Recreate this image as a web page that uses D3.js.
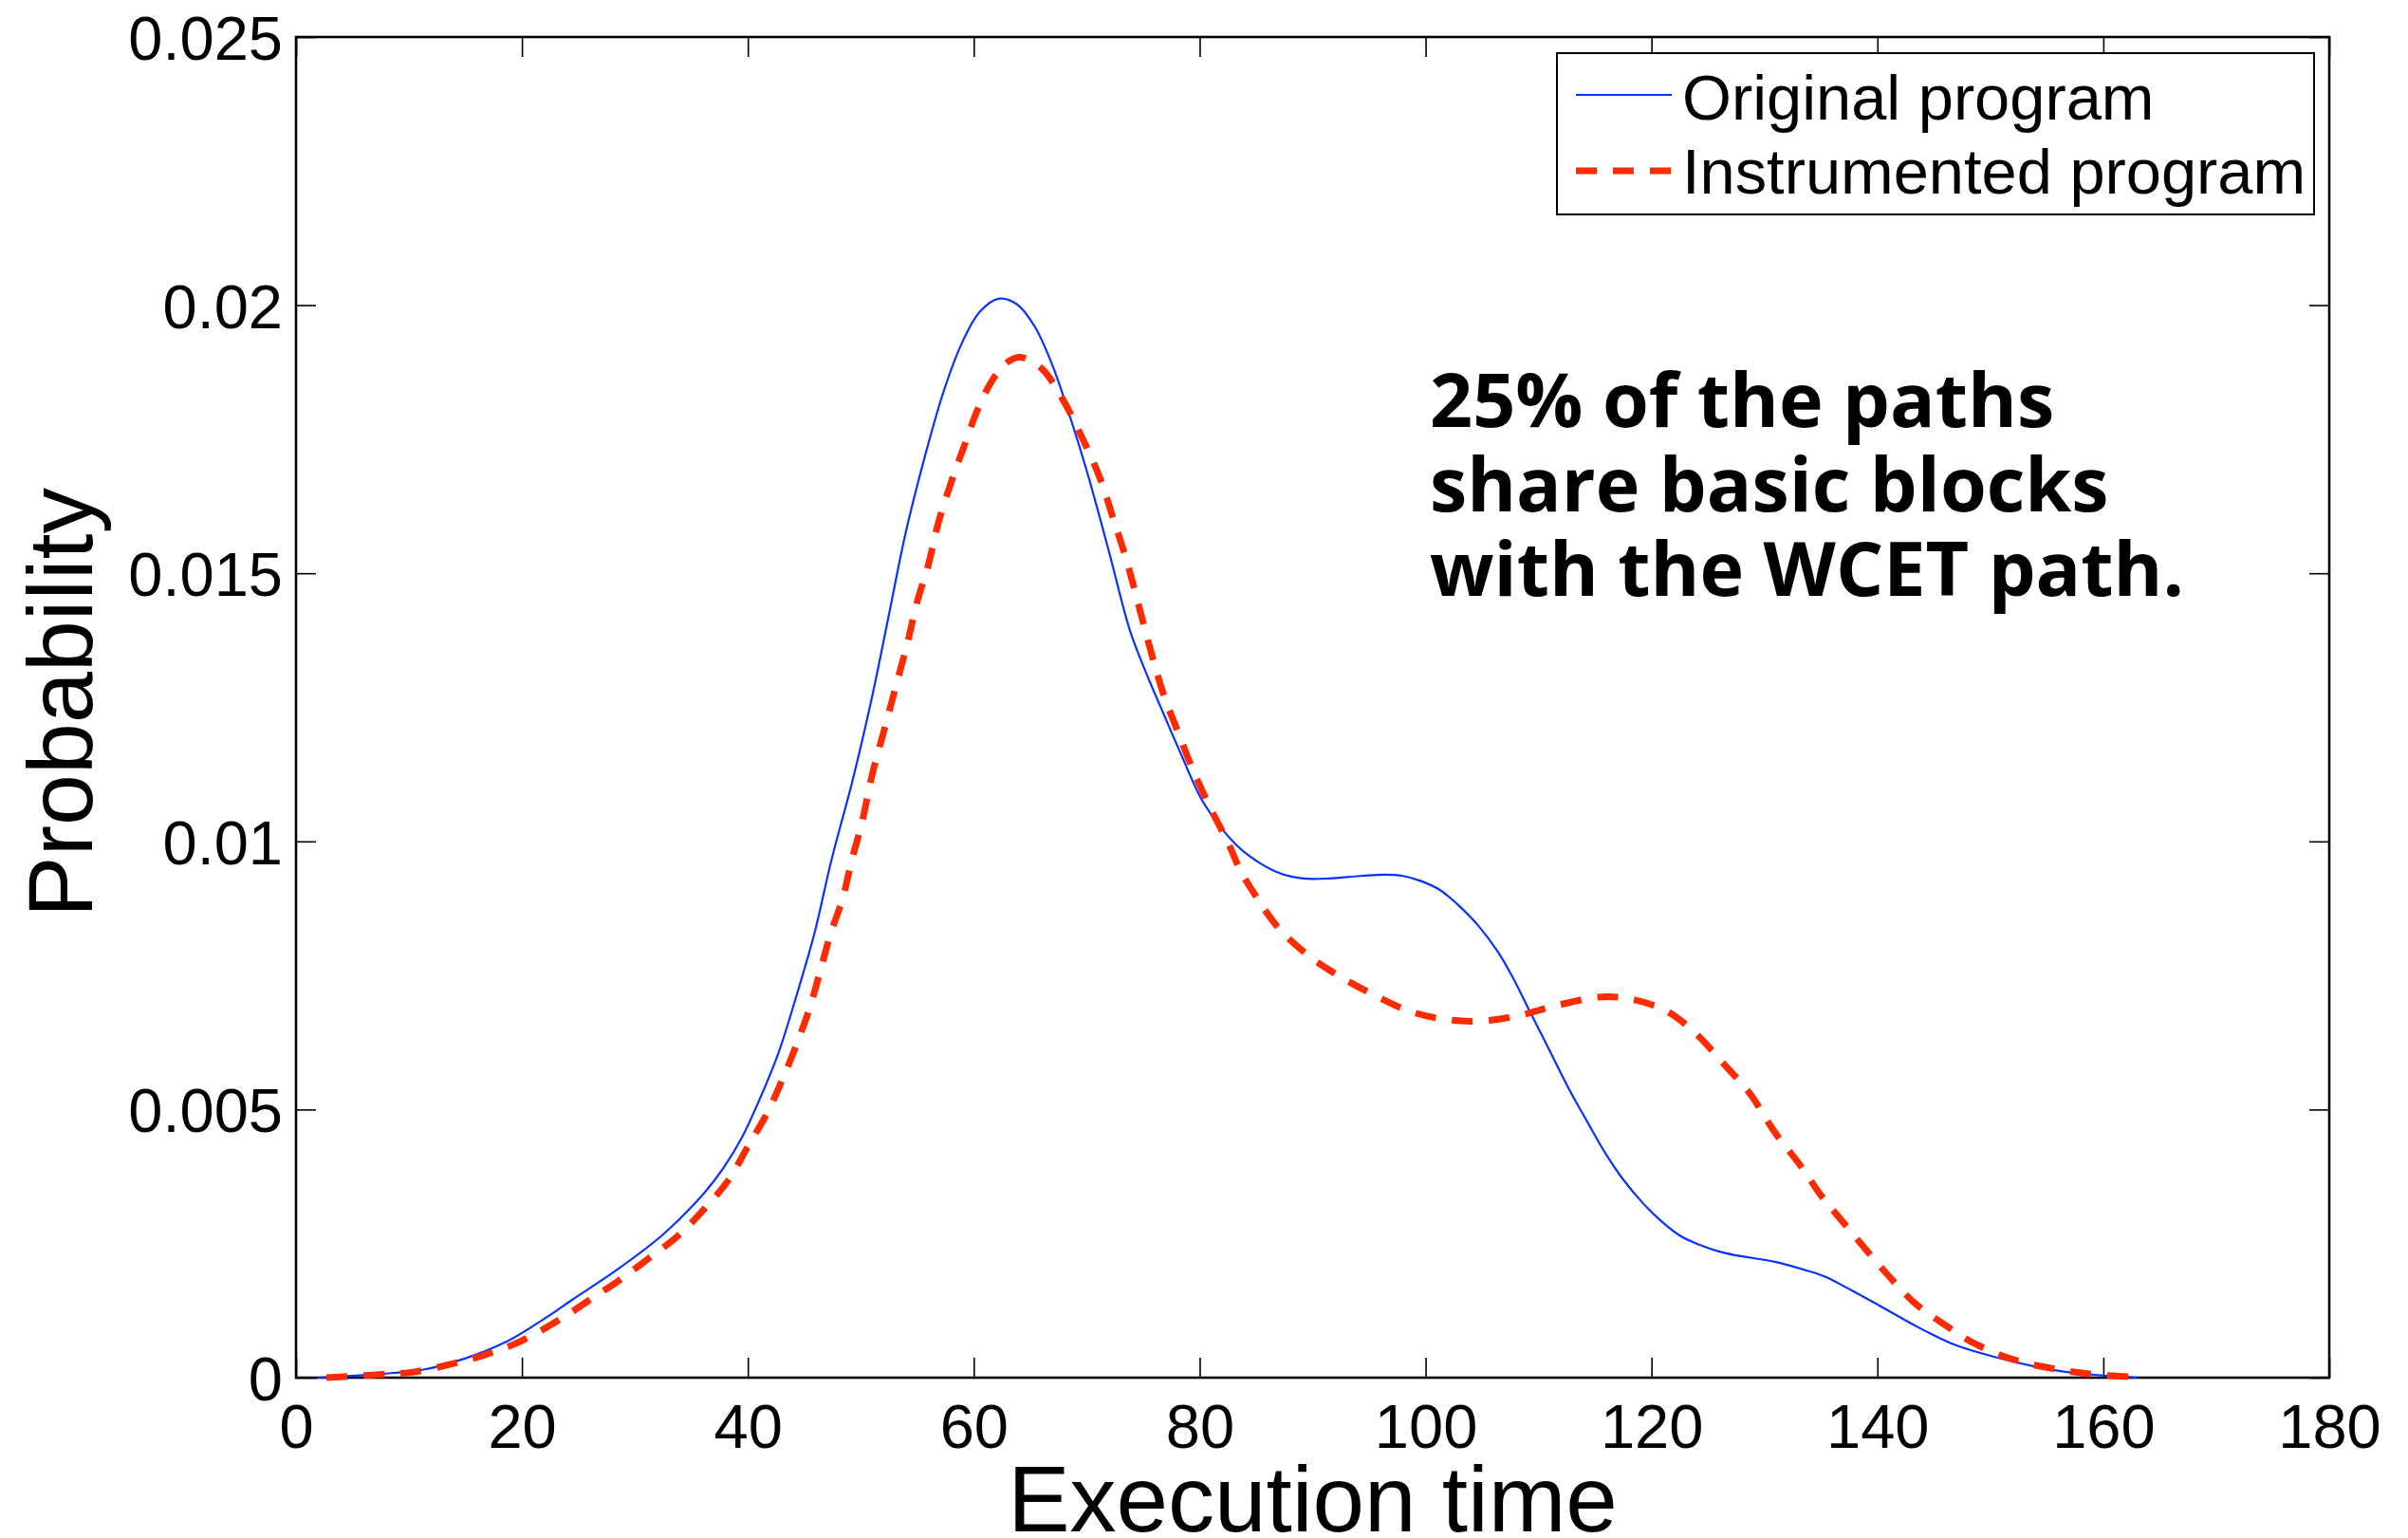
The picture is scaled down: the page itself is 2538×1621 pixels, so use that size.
<!DOCTYPE html>
<html>
<head>
<meta charset="utf-8">
<script src="https://cdn.jsdelivr.net/npm/d3@7"></script>
<style>
  html, body { margin: 0; padding: 0; background: #fff; }
  svg { display: block; }
</style>
</head>
<body>
<div id="chart"></div>
<script>
// ---- data ----
const xTicks = [0, 20, 40, 60, 80, 100, 120, 140, 160, 180];
const yTicks = [0, 0.005, 0.01, 0.015, 0.02, 0.025];
const yTickLabels = ["0", "0.005", "0.01", "0.015", "0.02", "0.025"];

const seriesNames = ["Original program", "Instrumented program"];

const originalX = [1.9, 7.5, 11.3, 15.0, 18.8, 22.5, 24.5, 28.4, 32.6, 36.2, 37.9, 39.5, 41.0, 42.7, 44.2,
  45.9, 47.4, 49.3, 51.0, 52.5, 54.0, 55.7, 57.3, 58.9, 60.5, 62.2, 63.8, 65.4, 67.0, 68.6, 70.1, 72.0,
  73.8, 75.3, 76.8, 78.3, 80.4, 83.3, 85.0, 86.7, 88.2, 90.0, 91.5, 94.5, 96.4, 97.9, 99.6, 101.3, 102.8,
  104.7, 106.4, 107.7, 109.3, 111.0, 112.7, 114.4, 115.9, 117.4, 119.3, 120.8, 122.5, 124.2, 126.0, 127.5,
  130.9, 133.7, 135.4, 137.6, 140.2, 143.6, 147.0, 150.5, 153.9, 157.3, 160.0, 163.0];
const originalY = [0, 0.00007, 0.00015, 0.00036, 0.00069, 0.00117, 0.00146, 0.00201, 0.00269, 0.00346, 0.00393,
  0.00449, 0.00517, 0.00605, 0.00705, 0.00829, 0.00965, 0.01116, 0.0127, 0.01424, 0.01578, 0.0172, 0.01837,
  0.01927, 0.01987, 0.02012, 0.02002, 0.0196, 0.01886, 0.01787, 0.01684, 0.01538, 0.01395, 0.01312, 0.01238,
  0.01165, 0.0107, 0.00992, 0.00964, 0.00944, 0.00934, 0.0093, 0.00931, 0.00936, 0.00938, 0.00936, 0.00926,
  0.00909, 0.00883, 0.00842, 0.00794, 0.00747, 0.0068, 0.00609, 0.00538, 0.00474, 0.00419, 0.00372, 0.00324,
  0.00293, 0.00265, 0.00248, 0.00235, 0.00228, 0.00216, 0.002, 0.00188, 0.00164, 0.00134, 0.00094, 0.0006,
  0.00038, 0.00021, 0.00009, 0.00004, 0.0];

const instrumentedX = [2.7, 6.8, 10.2, 13.5, 16.5, 19.9, 23.7, 26.2, 28.5, 31.2, 33.9, 36.2, 38.3, 40.0, 41.7,
  43.1, 44.4, 45.5, 46.4, 47.3, 48.4, 49.2, 50.1, 51.0, 52.1, 53.2, 54.2, 54.9, 56.0, 56.9, 58.1, 59.2, 60.3,
  61.7, 63.0, 64.1, 66.0, 67.8, 69.7, 71.2, 72.3, 73.5, 74.6, 75.7, 76.8, 78.1, 79.45, 81.0, 82.5, 83.65,
  85.0, 87.0, 89.7, 92.5, 95.3, 98.5, 101.7, 105.0, 108.4, 111.6, 115.5, 118.2, 121.3, 123.8, 126.4, 128.7,
  130.9, 133.2, 135.0, 136.4, 138.5, 140.9, 143.3, 146.0, 148.75, 152.0, 155.25, 158.7, 162.8];
const instrumentedY = [0, 0.00005, 0.0001, 0.00024, 0.00041, 0.00068, 0.00113, 0.00148, 0.0018, 0.00222,
  0.00266, 0.00316, 0.00369, 0.00431, 0.00493, 0.00558, 0.00626, 0.00691, 0.00758, 0.00826, 0.00894,
  0.00965, 0.01035, 0.01124, 0.0121, 0.01297, 0.01376, 0.0144, 0.01518, 0.01597, 0.01676, 0.0174, 0.01803,
  0.01862, 0.01894, 0.01903, 0.01882, 0.01827, 0.01748, 0.01676, 0.01605, 0.01526, 0.0144, 0.01353, 0.01274,
  0.01203, 0.01131, 0.0106, 0.00998, 0.00944, 0.00897, 0.00838, 0.00786, 0.00747, 0.00715, 0.00684, 0.00668,
  0.00665, 0.00676, 0.00694, 0.0071, 0.00706, 0.00684, 0.00644, 0.00585, 0.0053, 0.00458, 0.00395, 0.0034,
  0.00304, 0.00251, 0.00192, 0.00139, 0.00098, 0.00062, 0.00034, 0.00018, 0.00007, 0.00001];

const annotationLines = ["25% of the paths", "share basic blocks", "with the WCET path."];

// ---- drawing ----
const width = 2538;
const height = 1621;
const margin = { top: 39, right: 83, bottom: 169, left: 312 };
const font = "'Liberation Sans', Arial, Helvetica, sans-serif";
const blue = "#0a32ff";
const red = "#ff2a00";

const svg = d3.select("#chart").append("svg")
  .attr("width", width)
  .attr("height", height);

const x = d3.scaleLinear()
  .domain([0, 180])
  .range([margin.left, width - margin.right]);

const y = d3.scaleLinear()
  .domain([0, 0.025])
  .range([height - margin.bottom, margin.top]);

const tickLen = 21;

// bottom axis with labels
const gx = svg.append("g")
  .attr("transform", `translate(0, ${y(0)})`)
  .call(d3.axisBottom(x).tickValues(xTicks).tickSizeInner(-tickLen).tickSizeOuter(0).tickFormat(d3.format("d")));
gx.selectAll("text").attr("y", 74).attr("dy", null);

// left axis with labels
const gy = svg.append("g")
  .attr("transform", `translate(${x(0)}, 0)`)
  .call(d3.axisLeft(y).tickValues(yTicks).tickSizeInner(-tickLen).tickSizeOuter(0)
    .tickFormat((d, i) => yTickLabels[i]));
gy.selectAll("text").attr("x", -14).attr("dy", "0.36em");

// mirrored ticks on top and right
svg.append("g")
  .attr("transform", `translate(0, ${y(0.025)})`)
  .call(d3.axisTop(x).tickValues(xTicks).tickSizeInner(-tickLen).tickSizeOuter(0).tickFormat(""));
svg.append("g")
  .attr("transform", `translate(${x(180)}, 0)`)
  .call(d3.axisRight(y).tickValues(yTicks).tickSizeInner(-tickLen).tickSizeOuter(0).tickFormat(""));

svg.selectAll(".domain").remove();
svg.selectAll(".tick line").attr("stroke", "#000").attr("stroke-width", 1.6);
svg.selectAll(".tick text")
  .attr("fill", "#000")
  .style("font-family", font)
  .style("font-size", "65px");

// frame
svg.append("rect")
  .attr("x", x(0))
  .attr("y", y(0.025))
  .attr("width", x(180) - x(0))
  .attr("height", y(0) - y(0.025))
  .attr("fill", "none")
  .attr("stroke", "#000")
  .attr("stroke-width", 2.6);

// curves
const line = d3.line()
  .x((d) => x(d[0]))
  .y((d) => y(d[1]))
  .curve(d3.curveCatmullRom.alpha(0.5));

const original = originalX.map((v, i) => [v, originalY[i]]);
const instrumented = instrumentedX.map((v, i) => [v, instrumentedY[i]]);

svg.append("path")
  .datum(original)
  .attr("d", line)
  .attr("fill", "none")
  .attr("stroke", blue)
  .attr("stroke-width", 2.2);

svg.append("path")
  .datum(instrumented)
  .attr("d", line)
  .attr("fill", "none")
  .attr("stroke", red)
  .attr("stroke-width", 7)
  .attr("stroke-dasharray", "22,17");

// legend
const legend = svg.append("g");
legend.append("rect")
  .attr("x", 1641)
  .attr("y", 56)
  .attr("width", 798)
  .attr("height", 170)
  .attr("fill", "#fff")
  .attr("stroke", "#000")
  .attr("stroke-width", 2);

const legendStyles = [
  { color: blue, w: 2.2, dash: null, ly: 100, ty: 126 },
  { color: red, w: 7, dash: "22,17", ly: 180, ty: 204 }
];
seriesNames.forEach((name, i) => {
  const s = legendStyles[i];
  legend.append("line")
    .attr("x1", 1661).attr("x2", 1762)
    .attr("y1", s.ly).attr("y2", s.ly)
    .attr("stroke", s.color)
    .attr("stroke-width", s.w)
    .attr("stroke-dasharray", s.dash);
  legend.append("text")
    .attr("x", 1773)
    .attr("y", s.ty)
    .style("font-family", font)
    .style("font-size", "66.8px")
    .text(name);
});

// annotation
const note = svg.append("g");
annotationLines.forEach((t, i) => {
  note.append("text")
    .attr("x", 1507)
    .attr("y", 450 + i * 89)
    .style("font-family", "'Open Sans', 'DejaVu Sans', sans-serif")
    .style("font-weight", "bold")
    .style("font-size", "79px")
    .text(t);
});
// fit longest line to the width seen in the figure
const longest = d3.max(note.selectAll("text").nodes(), (n) => n.getComputedTextLength());
note.selectAll("text").style("font-size", (79 * 795 / longest) + "px");

// axis titles
svg.append("text")
  .attr("x", (x(0) + x(180)) / 2)
  .attr("y", 1614)
  .attr("text-anchor", "middle")
  .style("font-family", font)
  .style("font-size", "98px")
  .text("Execution time");

svg.append("text")
  .attr("transform", `translate(97, ${(y(0) + y(0.025)) / 2 - 5}) rotate(-90)`)
  .attr("text-anchor", "middle")
  .style("font-family", font)
  .style("font-size", "97px")
  .text("Probability");
</script>
</body>
</html>
